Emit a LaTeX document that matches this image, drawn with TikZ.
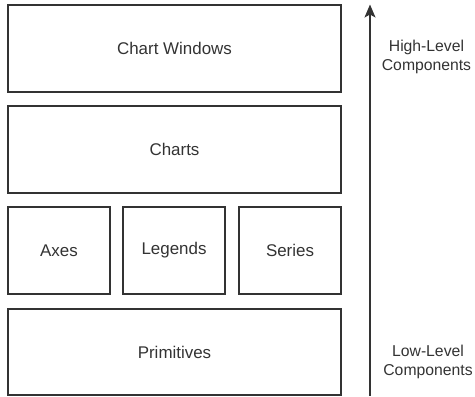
\documentclass[tikz,border=0pt]{standalone}
\usepackage{fontspec}
\setmainfont{Liberation Sans}
\usetikzlibrary{arrows.meta}
\definecolor{ln}{HTML}{333333}
\definecolor{tx}{HTML}{333333}
\tikzset{
  layerbox/.style={draw=ln, line width=1.2bp, fill=white, inner sep=0pt, text=tx, font=\fontsize{17}{20}\selectfont},
  sidelabel/.style={text=tx, align=center, font=\fontsize{15.8}{19}\selectfont, inner sep=0pt},
  levelarrow/.style={draw=ln, line width=1.2bp, -{Stealth[length=13bp,width=11bp,inset=3bp]}}
}
\begin{document}
\begin{tikzpicture}[x=1bp,y=-1bp]
\useasboundingbox (0,0) rectangle (475,396);
\node[layerbox, minimum width=333bp, minimum height=87bp] (cw) at (174.5,48.5) {Chart Windows};
\node[layerbox, minimum width=333bp, minimum height=87bp] (charts) at (174.5,149.5) {Charts};
\node[layerbox, minimum width=102bp, minimum height=87bp] (axes) at (59,250.5) {Axes};
\node[layerbox, minimum width=102bp, minimum height=87bp] (legends) at (174,250.5) {Legends};
\node[layerbox, minimum width=102bp, minimum height=87bp] (series) at (290,250.5) {Series};
\node[layerbox, minimum width=333bp, minimum height=86bp] (prim) at (174.5,352) {Primitives};
\coordinate (abot) at (370,395.5);
\coordinate (atop) at (370,4.5);
\draw[levelarrow] (abot) -- (atop);
\node[sidelabel] (high) at (426.5,57) {High-Level\\Components};
\node[sidelabel] (low) at (428,361.5) {Low-Level\\Components};
\end{tikzpicture}
\end{document}
